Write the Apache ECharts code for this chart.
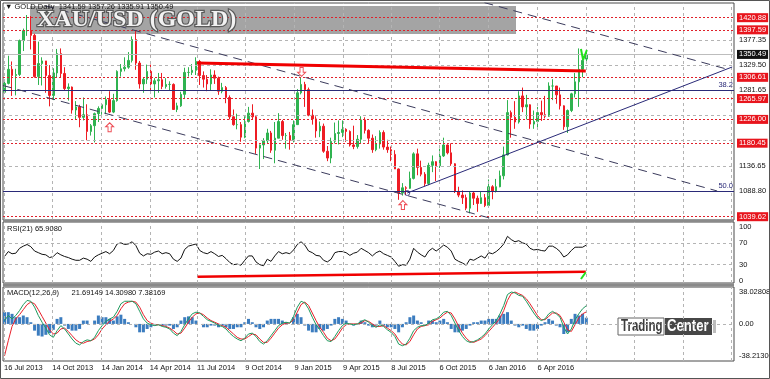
<!DOCTYPE html>
<html><head><meta charset="utf-8">
<script src="https://cdn.jsdelivr.net/npm/echarts@6/dist/echarts.min.js"></script>
<style>html,body{margin:0;padding:0;background:#fff}#c{width:770px;height:379px}</style>
</head><body><div id="c"></div>
<script>
// ---------------- DATA (weekly candles) ----------------
const firstWeek = '2013-07-17';
const opens = [1278,1295,1322,1310,1312,1377,1396,1396,1387,1308,1333,1338,1310,1272,1315,1352,1314,1285,1288,1244,
1250,1230,1235,1203,1214,1237,1247,1254,1264,1240,1262,1318,1323,1326,1339,1379,1334,1294,1303,1318,
1294,1300,1302,1289,1293,1293,1245,1252,1274,1316,1316,1320,1337,1310,1303,1294,1311,1305,1280,1287,
1268,1231,1216,1216,1192,1222,1238,1231,1171,1177,1185,1200,1167,1190,1222,1195,1195,1186,1216,1277,
1293,1283,1234,1227,1204,1213,1165,1152,1184,1199,1201,1207,1203,1177,1174,1188,1225,1205,1190,1168,
1179,1201,1173,1168,1159,1131,1085,1095,1094,1113,1160,1134,1121,1103,1138,1145,1137,1156,1177,1162,
1141,1088,1081,1076,1056,1085,1075,1065,1076,1061,1097,1089,1097,1118,1158,1239,1230,1221,1271,1250,
1254,1217,1222,1239,1235,1232,1290,1290,1273,1252,1212,1243,1275,1298,1322,1341.59];
const highs = [1298,1348,1337,1323,1379,1400,1426,1424,1390,1375,1345,1338,1330,1324,1361,1362,1326,1295,1289,1261,
1254,1268,1255,1217,1239,1251,1256,1270,1280,1275,1320,1332,1345,1355,1385,1397,1338,1306,1331,1331,
1305,1315,1315,1305,1299,1295,1258,1279,1325,1326,1332,1345,1340,1318,1311,1322,1320,1308,1296,1290,
1272,1245,1237,1221,1232,1250,1255,1234,1178,1190,1208,1204,1221,1238,1225,1200,1202,1224,1284,1307,
1298,1287,1245,1232,1222,1218,1175,1191,1220,1224,1224,1209,1205,1214,1196,1232,1230,1207,1197,1194,
1205,1205,1187,1174,1167,1132,1104,1098,1126,1163,1170,1147,1125,1143,1157,1146,1170,1191,1178,1180,
1142,1097,1090,1082,1088,1088,1080,1088,1083,1111,1100,1112,1128,1174,1263,1243,1261,1280,1287,1273,
1255,1243,1250,1262,1271,1297,1303,1290,1287,1253,1245,1277,1315,1362,1343,1357.26];
const lows = [1276,1293,1271,1272,1309,1357,1386,1360,1306,1292,1291,1277,1251,1263,1307,1307,1281,1262,1237,1226,
1211,1224,1186,1195,1182,1221,1235,1236,1238,1238,1260,1308,1318,1323,1335,1321,1285,1277,1294,1277,
1268,1277,1284,1285,1282,1244,1240,1250,1265,1308,1311,1311,1292,1287,1280,1282,1294,1273,1276,1257,
1226,1214,1207,1183,1190,1220,1226,1160,1131,1150,1180,1162,1142,1190,1187,1170,1168,1182,1216,1274,
1250,1232,1216,1191,1192,1162,1146,1142,1180,1178,1192,1183,1174,1169,1170,1180,1199,1181,1162,1165,
1170,1168,1162,1146,1131,1072,1080,1081,1093,1111,1119,1117,1098,1100,1125,1108,1133,1154,1159,1137,
1085,1077,1064,1052,1046,1062,1049,1064,1058,1061,1073,1086,1096,1111,1157,1191,1208,1218,1240,1226,
1208,1208,1211,1223,1228,1231,1263,1256,1245,1206,1200,1240,1268,1250,1307,1335.91];
const closes = [1295,1322,1310,1312,1377,1396,1396,1387,1308,1333,1338,1310,1272,1315,1352,1314,1285,1288,1244,1250,
1230,1235,1203,1214,1237,1247,1254,1264,1240,1262,1318,1323,1326,1339,1379,1334,1294,1303,1318,1294,
1300,1302,1289,1293,1293,1245,1252,1274,1316,1316,1320,1337,1310,1303,1294,1311,1305,1280,1287,1268,
1231,1216,1216,1192,1222,1238,1231,1171,1177,1185,1200,1167,1190,1222,1195,1195,1186,1216,1277,1293,
1283,1234,1227,1204,1213,1165,1152,1184,1199,1201,1207,1203,1177,1174,1188,1225,1205,1190,1168,1179,
1201,1173,1168,1159,1131,1085,1095,1094,1113,1160,1134,1121,1103,1138,1145,1137,1156,1177,1162,1141,
1088,1081,1076,1056,1085,1075,1065,1076,1061,1097,1089,1097,1118,1158,1239,1230,1221,1271,1250,1254,
1217,1222,1239,1235,1232,1290,1290,1273,1252,1212,1243,1275,1298,1322,1339,1350.49];
const rsi = [45,54,50,51,60,64,67,63,55,52,49,48,43,45,52,48,45,43,40,38,
38,42,40,36,44,48,51,54,50,56,68,70,67,68,72,65,51,46,50,49,
53,55,50,52,50,40,36,42,58,64,66,68,56,52,50,54,50,45,47,41,
34,30,31,29,38,46,46,35,30,28,40,36,46,54,50,52,50,57,67,72,
66,55,52,47,46,38,35,40,52,54,54,52,47,51,53,60,56,52,46,52,
55,50,47,44,36,27,30,29,40,60,53,48,44,55,60,55,60,66,62,55,
40,36,33,29,40,38,42,46,42,52,50,54,60,68,82,76,72,74,70,68,
60,57,58,56,55,64,64,60,54,44,48,56,62,62,62,65.908];
const macdMain = [4,10,6,10,16,23,28,27,20,10,2,-5,-13,-16,-8,-2,-6,-12,-18,-23,
-25,-21,-19,-20,-16,-8,-2,3,6,8,15,24,27,27,27,24,15,6,1,-1,
-2,-1,-3,-4,-6,-11,-14,-9,-1,6,12,14,13,9,5,3,1,-2,-3,-6,
-11,-15,-18,-20,-17,-12,-11,-15,-21,-24,-20,-14,-8,-2,1,2,1,9,20,27,
25,18,8,-1,-7,-14,-20,-21,-15,-8,-2,1,0,-1,0,3,5,2,-2,-4,
-1,-3,-7,-10,-15,-24,-26,-24,-17,-8,-4,-2,-2,1,5,6,9,14,15,10,
1,-8,-15,-20,-22,-21,-19,-16,-12,-6,-1,4,12,22,35,38,37,34,33,27,
20,13,7,4,6,12,15,12,8,-4,-12,-6,5,12,18,21.69149];
const macdSignal = [-38,-20,-3,6,11,17,23,26,24,17,9,1,-7,-12,-11,-6,-5,-9,-14,-19,
-22,-23,-21,-20,-18,-13,-6,-1,3,6,10,18,24,26,27,26,20,11,4,1,
-1,-1,-2,-3,-5,-8,-12,-11,-5,2,8,12,13,11,7,4,2,0,-2,-4,
-8,-12,-16,-18,-18,-15,-12,-13,-18,-22,-22,-17,-11,-5,-1,1,1,5,14,23,
26,22,13,4,-4,-10,-17,-20,-18,-12,-5,-1,0,0,0,1,4,3,0,-3,
-3,-2,-5,-8,-12,-19,-24,-25,-21,-13,-6,-3,-2,-1,3,5,7,11,14,13,
6,-3,-11,-17,-21,-22,-20,-18,-14,-9,-4,1,7,16,28,36,38,36,34,30,
24,17,10,5,5,9,13,13,10,2,-7,-9,-1,7,12,14.3098];
const macdHist = [14,14,12,8,8,10,8,2,-8,-14,-15,-13,-11,-7,6,8,-2,-6,-8,-8,
-6,4,4,0,4,10,8,8,6,4,9,11,6,2,0,-4,-10,-10,-6,-4,
-2,0,-2,-2,-2,-6,-4,4,8,9,8,4,0,-4,-4,-2,-2,-4,-2,-4,
-6,-6,-4,-4,2,6,2,-4,-6,-4,4,6,6,6,4,2,0,8,12,8,
-2,-8,-10,-10,-6,-8,-6,-2,6,8,6,4,0,-2,0,4,2,-2,-4,-2,
4,-2,-4,-4,-6,-10,-4,2,8,10,4,2,0,4,4,2,4,6,2,-6,
-10,-10,-8,-6,-2,2,2,4,4,6,6,6,10,12,14,4,-2,-4,-2,-6,
-8,-8,-6,-2,2,6,4,-2,-4,-12,-10,6,12,10,12,7.38169];

const dateLabelDates = ['2013-07-16','2013-10-14','2014-01-14','2014-04-14','2014-07-11','2014-10-09',
  '2015-01-09','2015-04-09','2015-07-08','2015-10-06','2016-01-06','2016-04-06'];
const dateLabels = ['16 Jul 2013','14 Oct 2013','14 Jan 2014','14 Apr 2014','11 Jul 2014','9 Oct 2014',
  '9 Jan 2015','9 Apr 2015','8 Jul 2015','6 Oct 2015','6 Jan 2016','6 Apr 2016'];
const futureGridDates = ['2016-07-05','2016-10-04','2017-01-02','2017-04-03'];

const redLevels = [1420.88, 1397.59, 1306.61, 1265.97, 1226.00, 1180.45, 1039.62];
const plainPriceLabels = [1377.35, 1329.50, 1281.65, 1136.65, 1088.80];
const priceGrid = [1377.35, 1329.50, 1281.65, 1233.80, 1185.95, 1136.65, 1088.80];
const fiboLevels = [1281.65, 1088.80];
const fiboNames = ['38.2', '50.0'];
const lastPrice = 1350.49;
const rsiTicks = [100, 70, 30, 0];
const rsiGrid = [70, 30];
const macdTicks = [38.02808, 0, -38.21306];
const macdTickText = ['38.02808', '0.00', '-38.21306'];

// trend lines [date, value]
const midChannel = [['2013-10-01', 1443.7], ['2017-03-07', 1088.9]];
const lowChannel = [['2013-07-14', 1291], ['2016-01-18', 1034.2]];
const topChannel = [['2015-12-02', 1457.3], ['2017-03-31', 1320.7]];
const supportLine = [['2015-08-07', 1085], ['2017-04-04', 1326.4]];
const resistLine = [['2014-07-11', 1334.1], ['2016-07-05', 1318.8]];
const rsiRedLine = [['2014-07-12', 7.9], ['2016-07-05', 17]];
const rsiPen = [['2016-06-26', 3.7], ['2016-07-05', 16]];
const pricePen = [['2016-06-26', 1361], ['2016-06-30', 1340], ['2016-07-07', 1359]];
const upArrows = [['2014-01-29', 1211], ['2015-07-30', 1062]];
const downArrows = [['2015-01-22', 1317]];
const pivotCircle = [['2015-08-07', 1085]];

// ---------------- BUILD ----------------
const DAY = 864e5;
const t0 = Date.parse(firstWeek);
const times = closes.map((_, i) => t0 + i * 7 * DAY);
const minT = Date.parse('2013-07-16') - 1.865 * DAY;
const maxT = minT + 1363.3 * DAY;
const P = s => Date.parse(s);
const labelTimes = dateLabelDates.map(P);
const labelMap = {}; labelTimes.forEach((t, i) => labelMap[t] = dateLabels[i]);
const vGridTimes = labelTimes.concat(futureGridDates.map(P));
const FONT = 'Liberation Sans';
const FS = 7.5;
const conv = arr => arr.map(d => [P(d[0]), d[1]]);

const candleData = closes.map((c, i) => [times[i], opens[i], c, lows[i], highs[i]]);
const rsiData = rsi.map((v, i) => [times[i], v]);
const mainData = macdMain.map((v, i) => [times[i], v]);
const sigData = macdSignal.map((v, i) => [times[i], v]);
const histData = macdHist.map((v, i) => [times[i], v]);

const gridLine = {color: '#b4b4b4', type: [3, 3], width: 1};
const noLine = {color: 'rgba(255,255,255,0)', width: 0};
function vLines() { return vGridTimes.map(t => ({xAxis: t, lineStyle: gridLine})); }
function hLines(vals) { return vals.map(v => ({yAxis: v, lineStyle: gridLine})); }
function axisText(v, txt) {
  return {yAxis: v, lineStyle: noLine,
    label: {show: true, position: 'end', distance: 3, formatter: txt, color: '#111',
      fontSize: FS, fontFamily: FONT, padding: [1, 2, 0, 2]}};
}
function helper(idx, z, mlData) {
  return {type: 'line', xAxisIndex: idx, yAxisIndex: idx, data: [], z: z, silent: true,
    markLine: {silent: true, symbol: ['none', 'none'], animation: false,
      label: {show: false}, data: mlData}};
}
function trend(idx, pts, style, z) {
  return {type: 'line', xAxisIndex: idx, yAxisIndex: idx, data: conv(pts), symbol: 'none',
    silent: true, z: z || 5, lineStyle: style, clip: true};
}

const priceLevelMarks = [];
redLevels.forEach(v => priceLevelMarks.push({yAxis: v,
  lineStyle: {color: '#e0202a', type: [2, 2], width: 1},
  label: {show: true, position: 'end', distance: 3, formatter: v.toFixed(2), color: '#fff',
    backgroundColor: '#e8151d', fontSize: FS, fontFamily: FONT, padding: [1, 2, 0, 2]}}));
fiboLevels.forEach((v, i) => priceLevelMarks.push({yAxis: v,
  lineStyle: {color: '#2a2a78', type: 'solid', width: 1},
  label: {show: true, position: 'insideEndTop', distance: 1, formatter: fiboNames[i], color: '#2a2a78',
    fontSize: FS, fontFamily: FONT}}));
plainPriceLabels.forEach(v => priceLevelMarks.push(axisText(v, v.toFixed(2))));
priceLevelMarks.push({yAxis: lastPrice, lineStyle: {color: '#bdbdbd', type: 'solid', width: 1},
  label: {show: true, position: 'end', distance: 3, formatter: lastPrice.toFixed(2), color: '#fff',
    backgroundColor: '#111', fontSize: FS, fontFamily: FONT, padding: [1, 2, 0, 2]}});

const xAxes = [0, 1, 2].map(i => ({
  type: 'value', gridIndex: i, min: minT, max: maxT,
  axisLine: {show: false}, axisTick: {show: false}, splitLine: {show: false},
  axisLabel: i < 2 ? {show: false} : {
    show: true, customValues: labelTimes, formatter: v => labelMap[v] || '',
    align: 'left', margin: 3, fontSize: FS, fontFamily: FONT, color: '#111', hideOverlap: false
  }
}));
const yCommon = {axisLine: {show: false}, axisTick: {show: false}, splitLine: {show: false}, axisLabel: {show: false}};
const yAxes = [
  Object.assign({type: 'value', gridIndex: 0, min: 1033.3, max: 1449.0}, yCommon),
  Object.assign({type: 'value', gridIndex: 1, min: -3.7, max: 108.3}, yCommon),
  Object.assign({type: 'value', gridIndex: 2, min: -44.17, max: 43.98}, yCommon)
];

const arrowPath = 'path://M5,0 L10,5 L7,5 L7,11 L3,11 L3,5 L0,5 Z';

const series = [
  helper(0, 1, vLines().concat(hLines(priceGrid))),
  {type: 'candlestick', xAxisIndex: 0, yAxisIndex: 0, data: candleData, z: 3,
    encode: {x: 0, y: [1, 2, 3, 4]}, barWidth: 2, silent: true,
    itemStyle: {color: '#2fb350', color0: '#ee1c24', borderColor: '#2fb350', borderColor0: '#ee1c24', borderWidth: 1}},
  helper(0, 4, priceLevelMarks),
  trend(0, midChannel, {color: '#3b3b5c', type: [9, 6], width: 1}),
  trend(0, lowChannel, {color: '#3b3b5c', type: [9, 6], width: 1}),
  trend(0, topChannel, {color: '#3b3b5c', type: [9, 6], width: 1}),
  trend(0, supportLine, {color: '#2a2a78', type: 'solid', width: 1}),
  trend(0, resistLine, {color: '#f00000', type: 'solid', width: 3}),
  trend(0, pricePen, {color: '#22e01a', type: 'solid', width: 2}, 7),
  {type: 'scatter', xAxisIndex: 0, yAxisIndex: 0, data: conv(upArrows), symbol: arrowPath, symbolSize: [8, 9],
    itemStyle: {color: '#fff', borderColor: '#e8202a', borderWidth: 1}, z: 6, silent: true},
  {type: 'scatter', xAxisIndex: 0, yAxisIndex: 0, data: conv(downArrows), symbol: arrowPath, symbolSize: [8, 9], symbolRotate: 180,
    itemStyle: {color: '#fff', borderColor: '#e8202a', borderWidth: 1}, z: 6, silent: true},
  {type: 'scatter', xAxisIndex: 0, yAxisIndex: 0, data: conv(pivotCircle), symbol: 'circle', symbolSize: 5,
    itemStyle: {color: 'none', borderColor: '#2a2a78', borderWidth: 1}, z: 6, silent: true},
  // RSI
  helper(1, 1, vLines().concat(hLines(rsiGrid)).concat(rsiTicks.map(v => axisText(v, String(v))))),
  {type: 'line', xAxisIndex: 1, yAxisIndex: 1, data: rsiData, symbol: 'none', silent: true, z: 4,
    lineStyle: {color: '#111', width: 1}},
  trend(1, rsiRedLine, {color: '#f00000', type: 'solid', width: 2.5}),
  trend(1, rsiPen, {color: '#22e01a', type: 'solid', width: 2}, 7),
  // MACD
  helper(2, 1, vLines().concat(hLines([0])).concat(macdTicks.map((v, i) => axisText(v, macdTickText[i])))),
  {type: 'bar', xAxisIndex: 2, yAxisIndex: 2, data: histData, barWidth: 3, silent: true, z: 3,
    itemStyle: {color: '#3b7cbf'}},
  {type: 'line', xAxisIndex: 2, yAxisIndex: 2, data: sigData, symbol: 'none', silent: true, z: 4,
    lineStyle: {color: '#e8202a', width: 1}},
  {type: 'line', xAxisIndex: 2, yAxisIndex: 2, data: mainData, symbol: 'none', silent: true, z: 5,
    lineStyle: {color: '#1e9a5e', width: 1}}
];

const txt = (x, y, s, extra) => ({type: 'text', x: x, y: y, silent: true, z: 20,
  style: Object.assign({text: s, fill: '#111', font: FS + 'px "' + FONT + '"', verticalAlign: 'middle'}, extra || {})});

const graphic = [
  {type: 'rect', shape: {x: 30, y: 6, width: 486, height: 28}, style: {fill: '#a4a4a4'}, z: -1, silent: true},
  {type: 'text', x: 37, y: 20, z: 30, silent: true, style: {text: 'XAU/USD (GOLD)', fill: '#f2f2f2',
    stroke: '#5a5a5a', lineWidth: 2.5, strokeFirst: true,
    font: 'bold 24px "Liberation Serif"', verticalAlign: 'middle'}},
  txt(5, 6.5, '▼ GOLD,Daily  1341.59 1357.26 1335.91 1350.49'),
  txt(7, 229, 'RSI(21) 65.9080'),
  txt(7, 293, 'MACD(12,26,9)      21.69149 14.30980 7.38169'),
  {type: 'rect', shape: {x: 3, y: 219.5, width: 731, height: 2.5}, style: {fill: '#8a8a8a'}, z: 25, silent: true},
  {type: 'rect', shape: {x: 3, y: 283.5, width: 731, height: 3}, style: {fill: '#8a8a8a'}, z: 25, silent: true},
  {type: 'rect', shape: {x: 0.5, y: 0.5, width: 769, height: 378}, style: {fill: 'none', stroke: '#555', lineWidth: 1}, z: 25, silent: true},
  {type: 'group', x: 618, y: 318, z: 30, silent: true, children: [
    {type: 'rect', shape: {x: 0, y: 0, width: 46, height: 17}, style: {fill: '#fff', stroke: '#666', lineWidth: 1}},
    {type: 'text', x: 3, y: 9, scaleX: 0.72, style: {text: 'Trading', fill: '#3c3c3c', font: 'bold 16px "Liberation Sans"', verticalAlign: 'middle'}},
    {type: 'rect', shape: {x: 47, y: 0, width: 47, height: 17}, style: {fill: '#474747'}},
    {type: 'text', x: 49, y: 9, scaleX: 0.82, style: {text: 'Center', fill: '#fff', font: 'bold 16px "Liberation Sans"', verticalAlign: 'middle'}},
    {type: 'rect', shape: {x: 95, y: 2, width: 3, height: 13}, style: {fill: '#bdbdbd'}}
  ]}
];

const chart = echarts.init(document.getElementById('c'), null, {renderer: 'canvas'});
chart.setOption({
  animation: false,
  backgroundColor: '#ffffff',
  grid: [
    {left: 3, top: 3, width: 731, height: 217, show: true, borderColor: '#4a4a4a', borderWidth: 1},
    {left: 3, top: 222, width: 731, height: 61, show: true, borderColor: '#4a4a4a', borderWidth: 1},
    {left: 3, top: 287, width: 731, height: 74, show: true, borderColor: '#4a4a4a', borderWidth: 1}
  ],
  xAxis: xAxes,
  yAxis: yAxes,
  graphic: graphic,
  series: series
});
</script></body></html>
